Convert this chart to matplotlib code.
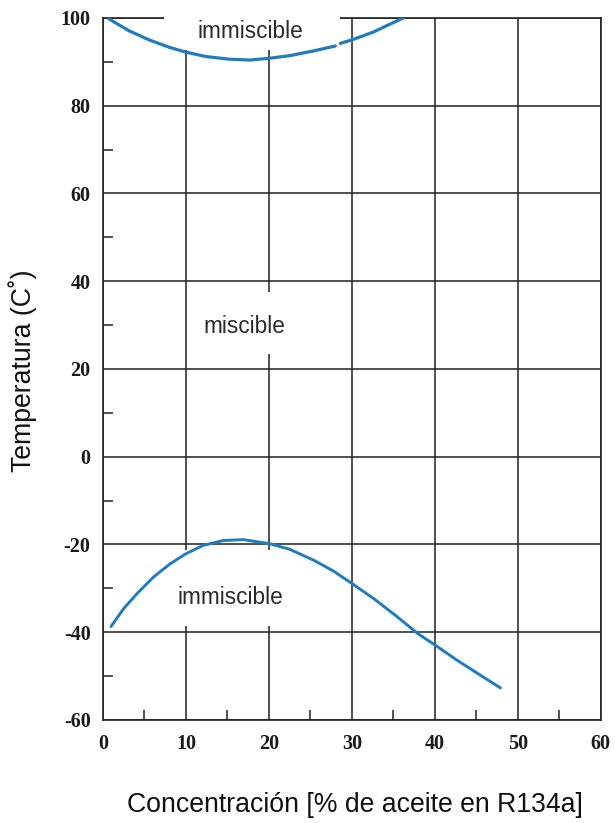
import matplotlib.pyplot as plt
from matplotlib.patches import Rectangle
from matplotlib.ticker import MultipleLocator

plt.rcParams['axes.unicode_minus'] = False

# upper immiscibility curve, drawn in two pieces
x_upper = [0.7, 3.1, 5.55, 8.0, 10, 12.4, 15.2, 17.7, 20, 22.5, 25.4, 28.0]
y_upper = [99.8, 97.1, 95.0, 93.3, 92.2, 91.2, 90.6, 90.4, 90.8, 91.4, 92.5, 93.6]
x_upper2 = [28.6, 30, 32.6, 34.6, 36.2]
y_upper2 = [94.2, 95.0, 96.8, 98.6, 100.0]

# lower immiscibility curve
x_lower = [0.96, 2.5, 4.1, 6.1, 8.1, 10, 12.1, 14.5, 16.9, 20, 22.5, 25.4, 27.8,
           30, 32.6, 35.4, 38, 40, 42.6, 45.4, 47.9]
y_lower = [-38.7, -34.6, -31.2, -27.4, -24.4, -22.1, -20.2, -19.1, -18.9, -19.8,
           -21.1, -23.6, -26.1, -28.9, -32.3, -36.4, -40.4, -42.9, -46.3, -49.7, -52.7]

x_ticks = [0, 10, 20, 30, 40, 50, 60]
y_ticks = [-60, -40, -20, 0, 20, 40, 60, 80, 100]

blue = '#1f7cc0'
sans = ['Liberation Sans', 'DejaVu Sans']

fig = plt.figure(figsize=(6.15, 8.23), dpi=100)
ax = fig.add_axes([0.1675, 0.1252, 0.8095, 0.853])

ax.plot(x_upper, y_upper, color=blue, lw=2.3, zorder=5, solid_capstyle='round')
ax.plot(x_upper2, y_upper2, color=blue, lw=2.3, zorder=5, solid_capstyle='round')
ax.plot(x_lower, y_lower, color=blue, lw=2.1, zorder=5, solid_capstyle='round')

ax.set_xlim(0, 60)
ax.set_ylim(-60, 100)
ax.set_xticks(x_ticks)
ax.set_yticks(y_ticks)
ax.xaxis.set_minor_locator(MultipleLocator(5))
ax.yaxis.set_minor_locator(MultipleLocator(10))
ax.grid(True, which='major', color='#222222', lw=1.1)
ax.tick_params(which='major', length=0)
ax.tick_params(axis='y', which='major', pad=9)
ax.tick_params(axis='x', which='major', pad=10)
ax.tick_params(which='minor', direction='in', length=7, width=1.1, color='#222222')
for lab in ax.get_xticklabels() + ax.get_yticklabels():
    lab.set_fontfamily('Liberation Serif')
    lab.set_fontweight('bold')
    lab.set_fontsize(14.5)
    lab.set_color('#1a1a1a')
for s in ax.spines.values():
    s.set_color('#222222')
    s.set_linewidth(1.2)

# white patches behind the region labels (they cut the grid in the scan)
masks = [(7.4, 92.6, 21.2, 8.6), (11.5, 23.4, 11.0, 14.1), (8.8, -38.6, 13.2, 17.3)]
for mx, my, mw, mh in masks:
    ax.add_patch(Rectangle((mx, my), mw, mh, fc='white', ec='none', zorder=3, clip_on=False))

ax.text(17.8, 97.0, 'immiscible', fontsize=16.3, family=sans, ha='center', va='center',
        color='#2a2a2a', zorder=4)
ax.text(17.0, 29.7, 'miscible', fontsize=16.3, family=sans, ha='center', va='center',
        color='#2a2a2a', zorder=4)
ax.text(15.4, -32.1, 'immiscible', fontsize=16.3, family=sans, ha='center', va='center',
        color='#2a2a2a', zorder=4)

fig.text(0.577, 0.0134, 'Concentración [% de aceite en R134a]', fontsize=19.2, family=sans,
         ha='center', va='baseline', color='#111111')
fig.text(0.036, 0.55, 'Temperatura (C˚)', fontsize=19.2, family=sans, rotation=90,
         ha='center', va='center', color='#111111')

fig.savefig('out.png', dpi=100)
